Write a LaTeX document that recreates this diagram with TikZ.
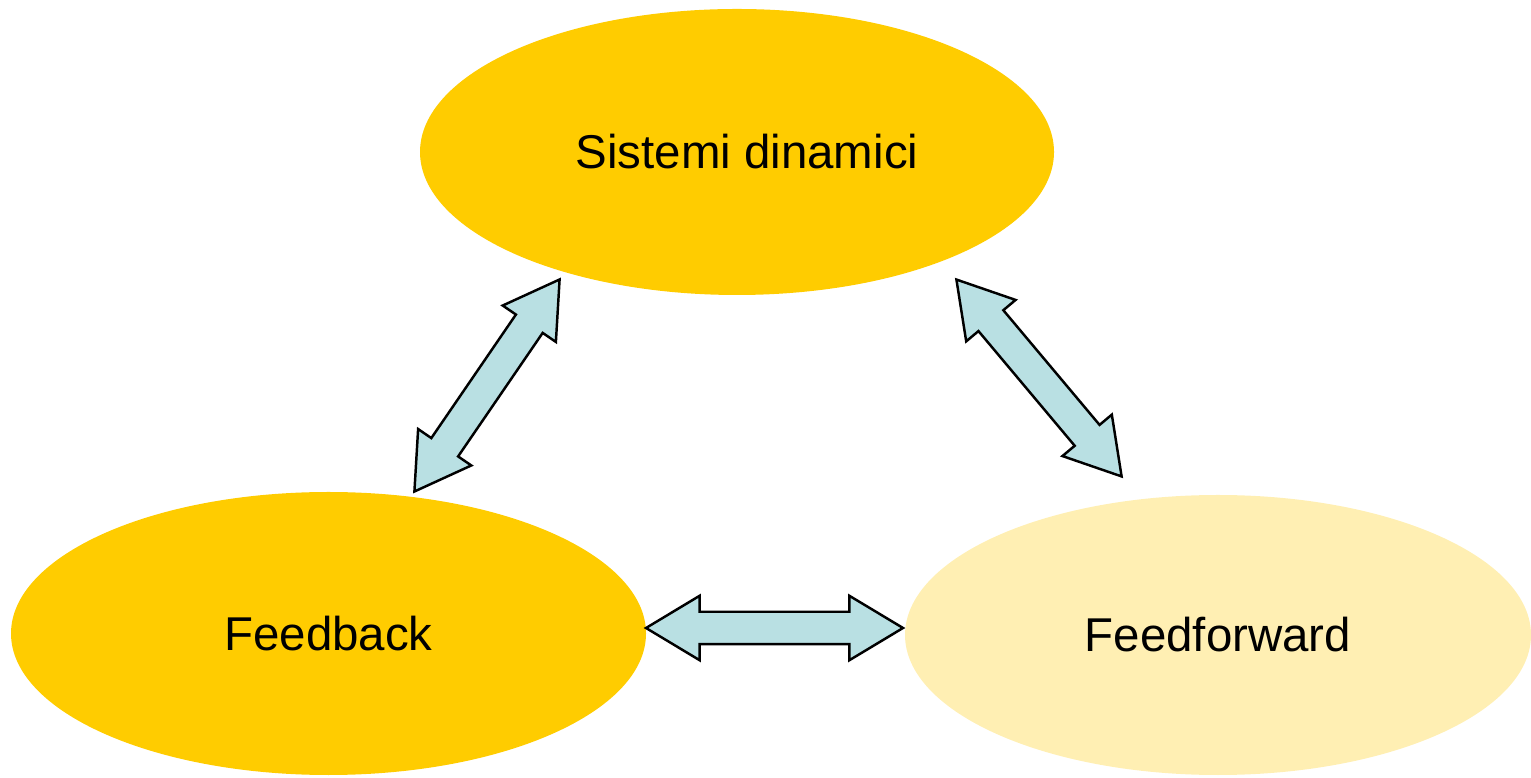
\documentclass[tikz,border=0pt]{standalone}
\usepackage{fontspec}
\setmainfont{Liberation Sans}
\usetikzlibrary{shapes.geometric,shapes.arrows}
\definecolor{gold}{HTML}{FFCC00}
\definecolor{paleg}{HTML}{FFEFB3}
\definecolor{pale}{HTML}{B9E0E3}
\tikzstyle{bubble} = [ellipse, draw=none, inner sep=0pt, font=\fontsize{13.5}{16}\selectfont]
\tikzstyle{link} = [double arrow, draw=black, fill=pale, line width=0.7pt, inner sep=0pt, inner ysep=0.15cm, outer sep=0pt,%
	double arrow head extend=0.16cm, double arrow tip angle=62, minimum height=2.57cm]

\begin{document}
\begin{tikzpicture}%
	\useasboundingbox (0,0) rectangle (15.31,7.77);%
	\node [bubble, fill=gold, minimum width=6.34cm, minimum height=2.86cm] (sd) at (7.37,6.25) {\hspace*{0.2cm}Sistemi dinamici};%
	\node [bubble, fill=gold, minimum width=6.35cm, minimum height=2.83cm] (fb) at (3.285,1.435) {Feedback};%
	\node [bubble, fill=paleg, minimum width=6.26cm, minimum height=2.80cm] (ff) at (12.18,1.42) {Feedforward};%
	\node [link, rotate=55.6] (fbsd) at (4.87,3.915) {};%
	\node [link, rotate=-50] (sdff) at (10.39,3.99) {};%
	\node [link] (fbff) at (7.745,1.49) {};%
\end{tikzpicture}
\end{document}
